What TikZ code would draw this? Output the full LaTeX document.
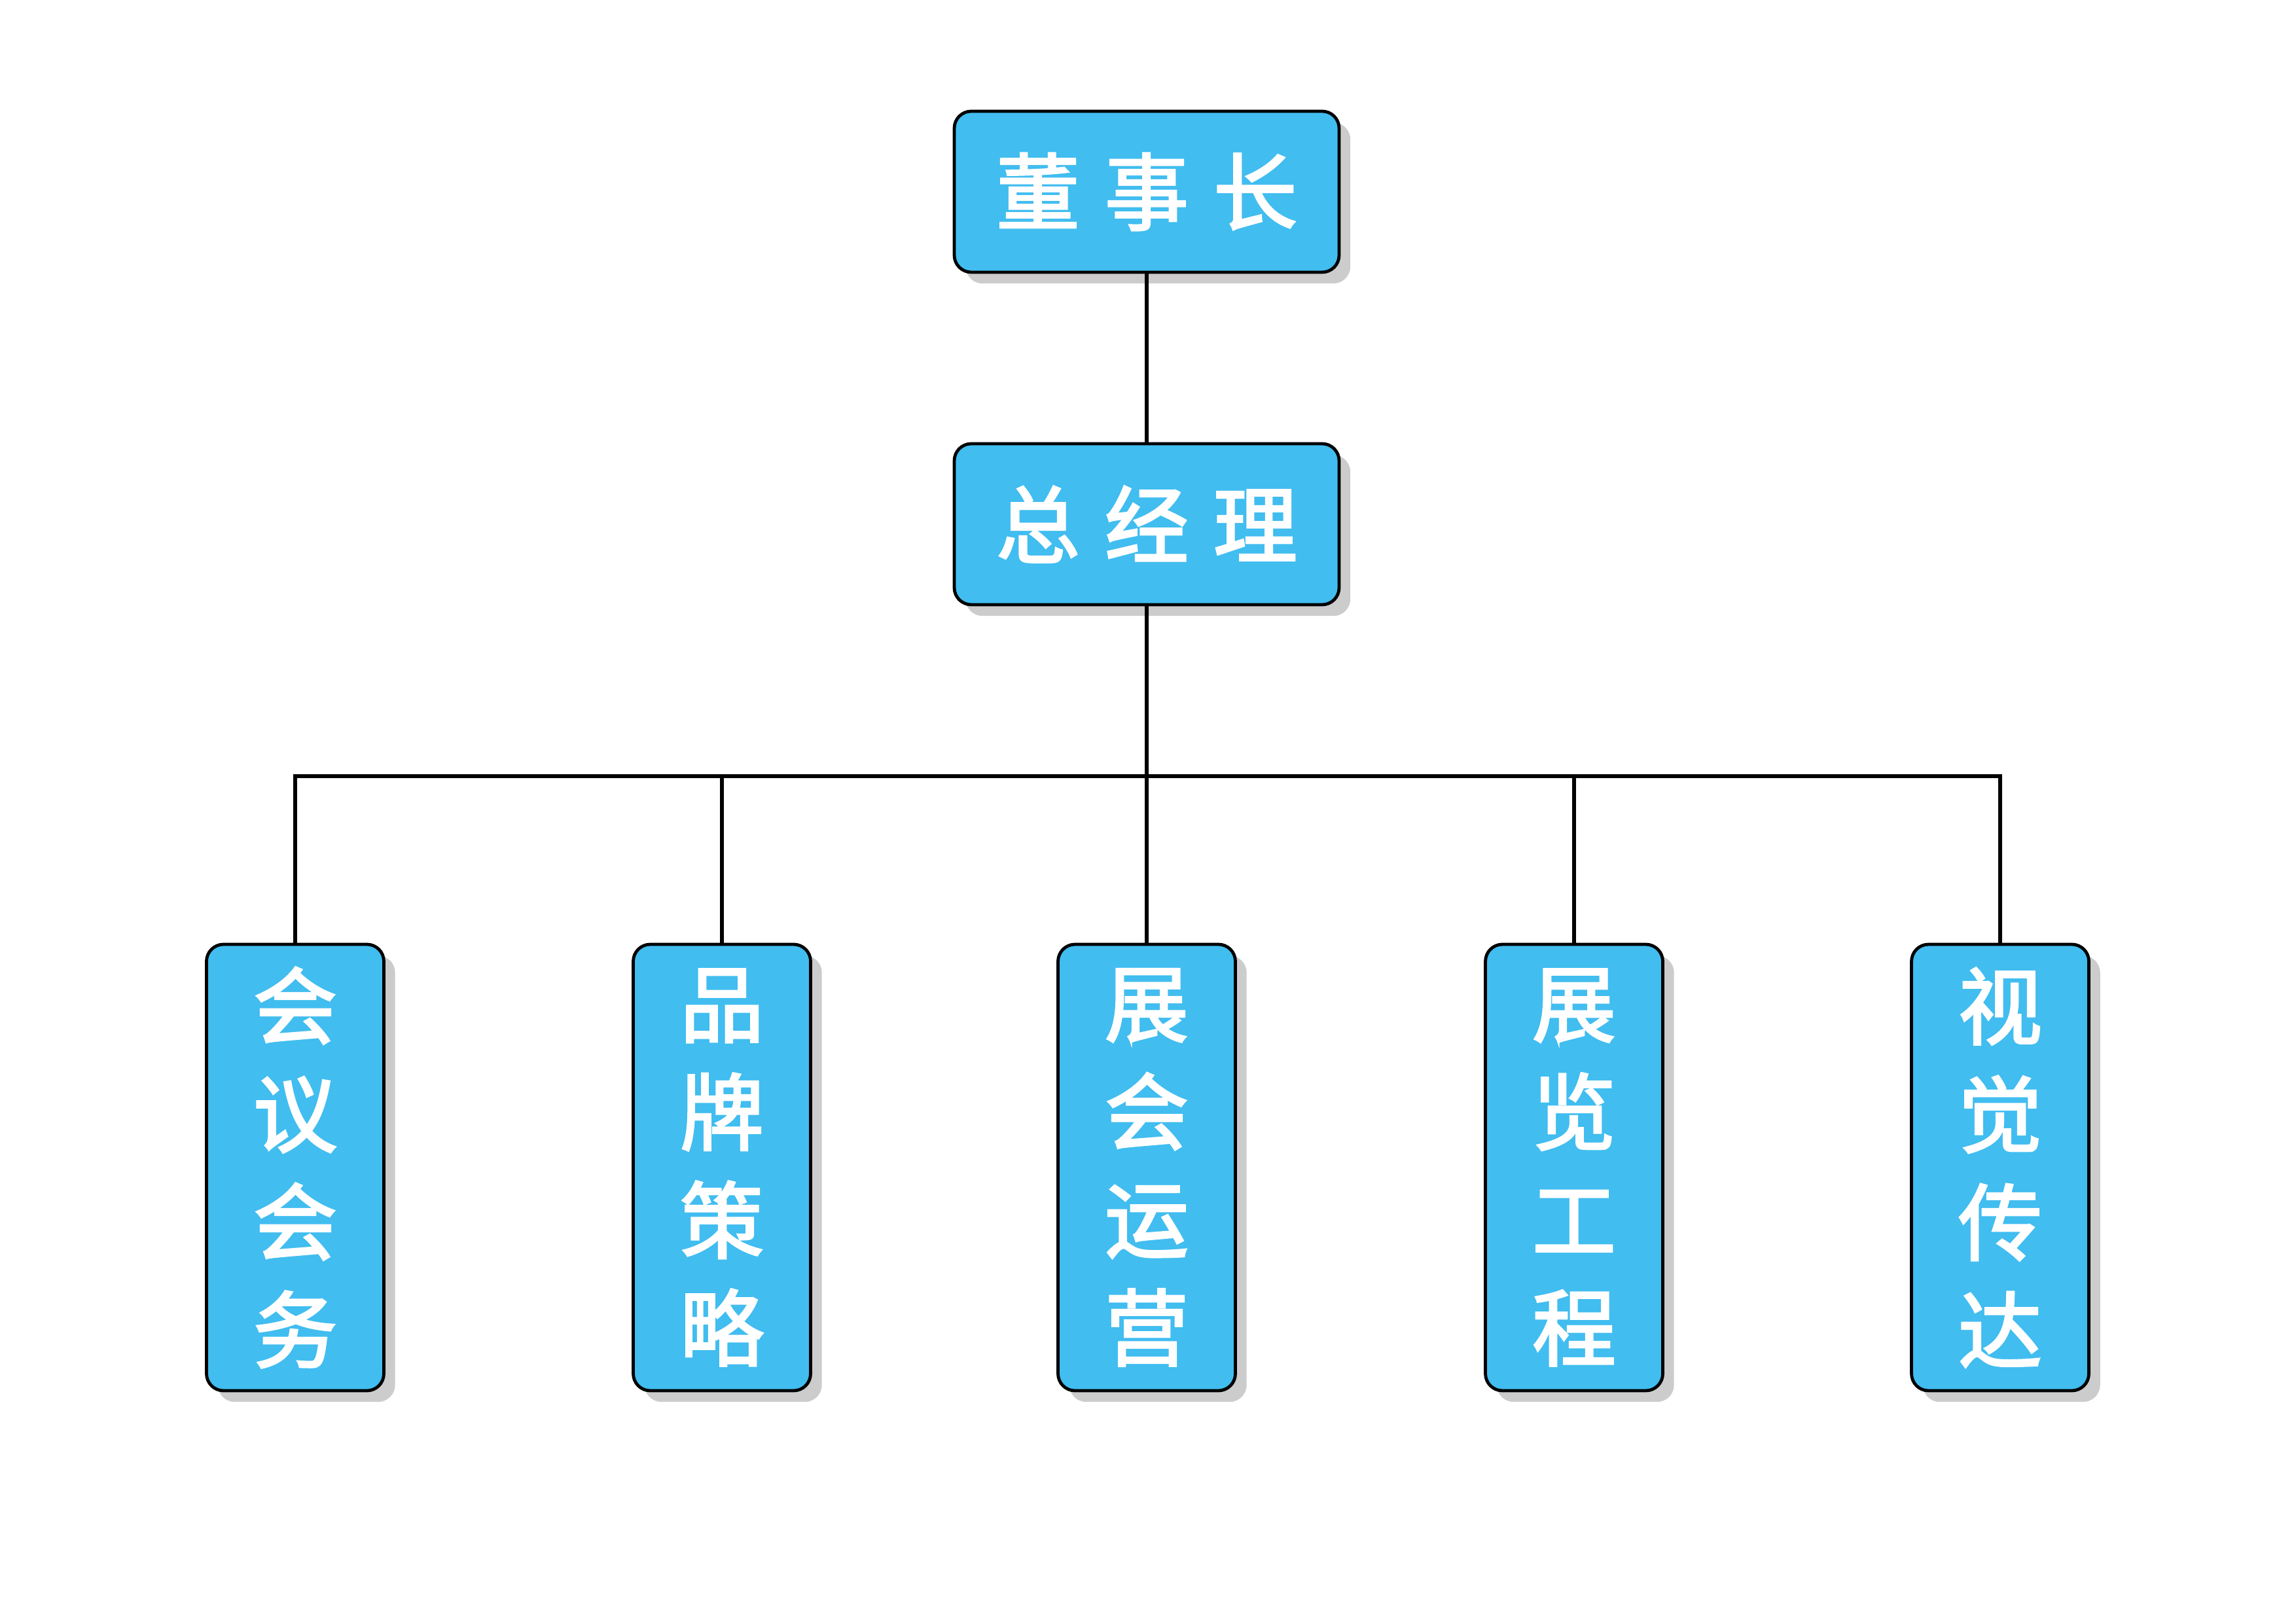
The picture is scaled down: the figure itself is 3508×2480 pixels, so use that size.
\documentclass[tikz,border=0pt]{standalone}
\usepackage{fontspec}
\newfontfamily\cjk[RawFeature={embolden=2.5}]{Noto Sans CJK SC}
\usetikzlibrary{shadows}
\definecolor{boxblue}{RGB}{65,189,240}
\definecolor{shadowgray}{RGB}{204,204,204}
\newcommand{\gap}{\hspace{9.5pt}}
\tikzset{box/.style={draw=black, line width=1.2pt, fill=boxblue, rounded corners=6.5pt,
    text=white, font=\cjk\fontsize{32}{41.25}\selectfont, align=center, inner sep=0pt,
    drop shadow={shadow xshift=4.3pt, shadow yshift=-4.3pt, fill=shadowgray, opacity=1}},
  headbox/.style={box, minimum width=147pt, minimum height=61.5pt},
  deptbox/.style={box, minimum width=67.75pt, minimum height=170.5pt},
  link/.style={line width=1.4pt}}
\begin{document}
\begin{tikzpicture}[x=0.25pt,y=0.25pt,yscale=-1,xscale=1]
\useasboundingbox (0,0) rectangle (3508,2480);

%Top boxes
\node[headbox] (chair) at (1752,293) {董\gap 事\gap 长};
\node[headbox] (gm) at (1752,801) {总\gap 经\gap 理};
%Departments
\node[deptbox] (d1) at (451,1784) {会\\议\\会\\务};
\node[deptbox] (d2) at (1103,1784) {品\\牌\\策\\略};
\node[deptbox] (d3) at (1752,1784) {展\\会\\运\\营};
\node[deptbox] (d4) at (2405,1784) {展\\览\\工\\程};
\node[deptbox] (d5) at (3056,1784) {视\\觉\\传\\达};

%Connectors
\coordinate (bus) at (1752,1186);
\draw[link] (chair) -- (gm);
\draw[link] (gm) -- (bus);
\foreach \n in {d1,d2,d3,d4,d5}
  \draw[link] (\n.north) |- (bus);

\end{tikzpicture}
\end{document}
